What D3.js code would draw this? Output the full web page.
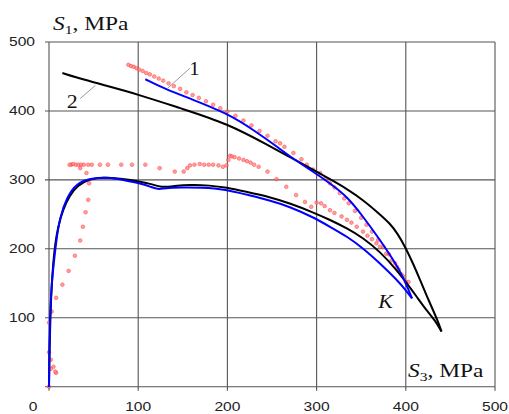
<!DOCTYPE html>
<html>
<head>
<meta charset="utf-8">
<script src="https://cdn.jsdelivr.net/npm/d3@7"></script>
<style>
  body { margin: 0; background: #fff; }
  svg { display: block; }
</style>
</head>
<body>
<svg id="chart" width="509" height="414"></svg>
<script>
// tick values
const xTicks = [0, 100, 200, 300, 400, 500];
const yTicks = [100, 200, 300, 400, 500];

// curve 2 (black), upper and lower branch, [S3, S1]
const curve2Upper = [[15,455],[40,445],[60,438],[100,424],[147,404],[200,382],[249,348],[270,333],[296,315],[315,301],[334,287],[352,271],[371,250],[382,237],[391,222],[400,201],[408,179],[416,155],[423,133],[433,104],[438,88],[440,80]];
const curve2Lower = [[0,0],[0.5,50],[1.5,100],[3,150],[6,200],[10,232],[16,258],[23,277],[32,292],[45,301],[60,304],[80,302],[100,298],[115,294],[126,289],[140,291],[158,293],[180,292],[199,289],[220,283],[248,275],[270,266],[296,253],[315,242],[334,230],[352,216],[371,196],[390,169],[400,152],[412,131],[423,111],[433,96],[440,80]];

// curve 1 (blue), upper and lower branch
const curve1Upper = [[108,446],[130,432],[158,418],[199,397],[230,372],[259,345],[270,334],[296,312],[315,295],[334,276],[352,247],[371,213],[386,184],[397,160],[407,128]];
const curve1Lower = [[0,0],[0.5,50],[1,100],[3,150],[5,175],[8,210],[12,245],[20,275],[31,295],[46,302],[65,304],[83,300],[102,295],[114,290],[122,286],[130,288],[147,289],[170,289],[199,286],[220,279],[248,270],[270,261],[296,246],[315,232],[334,218],[352,201],[371,179],[390,155],[400,140],[407,128]];

// experiment points (red), upper and lower branch
const expUpper = [[89,467],[92,465],[95,464],[98,462],[101,460],[105,458],[109,455],[113,453],[118,450],[123,447],[128,444],[134,440],[140,436],[147,432],[154,427],[161,423],[168,419],[176,414],[184,409],[192,404],[200,399],[209,393],[218,386],[227,379],[236,371],[245,364],[254,356],[259,353],[264,348],[274,339],[283,330],[289,322],[296,315],[304,310],[310,302],[315,295],[320,289],[326,281],[331,273],[336,266],[343,255],[350,245],[356,235],[362,225],[369,213],[375,203],[381,192],[388,179],[392,170],[397,160],[403,152]];
const expLower = [[0,0],[0,50],[2,39],[5,29],[2,26],[8,20],[7,22],[0,93],[3,109],[8,129],[15,148],[22,168],[29,190],[35,212],[38,232],[41,253],[44,271],[45,295],[42,310],[35,317],[25,322],[23,322],[27,323],[30,322],[33,322],[36,322],[39,322],[44,322],[48,322],[57,322],[66,322],[81,322],[93,322],[108,322],[124,317],[141,312],[151,312],[155,317],[158,321],[163,322],[169,323],[174,322],[179,322],[184,322],[190,321],[195,319],[199,321],[201,329],[203,335],[205,334],[208,333],[213,331],[218,329],[222,327],[226,325],[230,322],[235,319],[245,312],[255,301],[266,290],[277,278],[287,268],[294,261],[300,267],[305,266],[309,262],[315,256],[320,252],[328,247],[334,242],[339,238],[345,232],[352,225],[357,219],[362,214],[367,208],[371,203],[378,193],[384,183],[390,174],[395,163],[400,152]];

const svg = d3.select('#chart');

const x = d3.scaleLinear().domain([0, 500]).range([49, 495]);
const y = d3.scaleLinear().domain([0, 500]).range([386.7, 42]);

const gridColor = '#555';
const stretch = 1.3; // source picture is stretched sideways

// grid + frame
const grid = svg.append('g').attr('stroke', gridColor).attr('stroke-width', 1.1);
grid.selectAll('.gx')
  .data(xTicks).enter()
  .append('line')
  .attr('x1', d => x(d)).attr('x2', d => x(d))
  .attr('y1', y(500)).attr('y2', y(0) + 4);
grid.selectAll('.gy')
  .data([0].concat(yTicks)).enter()
  .append('line')
  .attr('x1', x(0) - 4).attr('x2', x(500))
  .attr('y1', d => y(d)).attr('y2', d => y(d));

// tick labels
const tickFont = 'Liberation Sans, Arial, sans-serif';
const labelText = (g, px, py, txt, anchor, sx) => {
  return g.append('text')
    .attr('transform', `translate(${px},${py}) scale(${sx},1)`)
    .attr('text-anchor', anchor)
    .text(txt);
};

const ticks = svg.append('g')
  .attr('font-family', tickFont)
  .attr('font-size', 12)
  .attr('fill', '#222');

yTicks.forEach(t => labelText(ticks, x(0) - 14, y(t) + 4.3, t, 'end', stretch));
xTicks.forEach(t => labelText(ticks, x(t) + (t === 0 ? -16 : 0), 410.5, t, 'middle', stretch));

// lines (basis smooths the hand-read points)
const line = d3.line()
  .x(d => x(d[0]))
  .y(d => y(d[1]))
  .curve(d3.curveBasis);

const curves = [
  {data: curve2Upper, color: '#000'},
  {data: curve2Lower, color: '#000'},
  {data: curve1Upper, color: '#0000ff'},
  {data: curve1Lower, color: '#0000ff'}
];

// experiment markers under the curves
svg.append('g')
  .selectAll('circle')
  .data(expUpper.concat(expLower)).enter()
  .append('circle')
  .attr('cx', d => x(d[0]))
  .attr('cy', d => y(d[1]))
  .attr('r', 1.8)
  .attr('fill', '#ff8080')
  .attr('stroke', '#ff3b3b')
  .attr('stroke-width', 0.8)
  .attr('opacity', 0.75);

svg.append('g')
  .selectAll('path')
  .data(curves).enter()
  .append('path')
  .attr('d', d => line(d.data))
  .attr('fill', 'none')
  .attr('stroke', d => d.color)
  .attr('stroke-width', 2)
  .attr('stroke-linejoin', 'round');

// leader lines for curve numbers
const leaders = [
  [[158,462],[133,433]],
  [[35,418],[52,437]]
];
svg.append('g')
  .selectAll('line')
  .data(leaders).enter()
  .append('line')
  .attr('x1', d => x(d[0][0])).attr('y1', d => y(d[0][1]))
  .attr('x2', d => x(d[1][0])).attr('y2', d => y(d[1][1]))
  .attr('stroke', '#999')
  .attr('stroke-width', 1);

// annotations
const serif = 'Liberation Serif, Times New Roman, serif';
const notes = svg.append('g').attr('font-family', serif).attr('fill', '#111');

labelText(notes, x(163), y(452), '1', 'middle', 1.15).attr('font-size', 18);
labelText(notes, x(26), y(404), '2', 'middle', 1.15).attr('font-size', 19);
labelText(notes, x(369), y(114), 'K', 'start', 1.15)
  .attr('font-size', 19).attr('font-style', 'italic');

// axis titles
const axisTitle = (px, py, sub) => {
  const t = notes.append('text')
    .attr('transform', `translate(${px},${py}) scale(1.3,1)`)
    .attr('font-size', 18);
  t.append('tspan').attr('font-style', 'italic').text('S');
  t.append('tspan').attr('font-size', 12).attr('dy', 4).text(sub);
  t.append('tspan').attr('dy', -4).text(', MPa');
};
axisTitle(53, 30, '1');
axisTitle(408, 377, '3');
</script>
</body>
</html>
